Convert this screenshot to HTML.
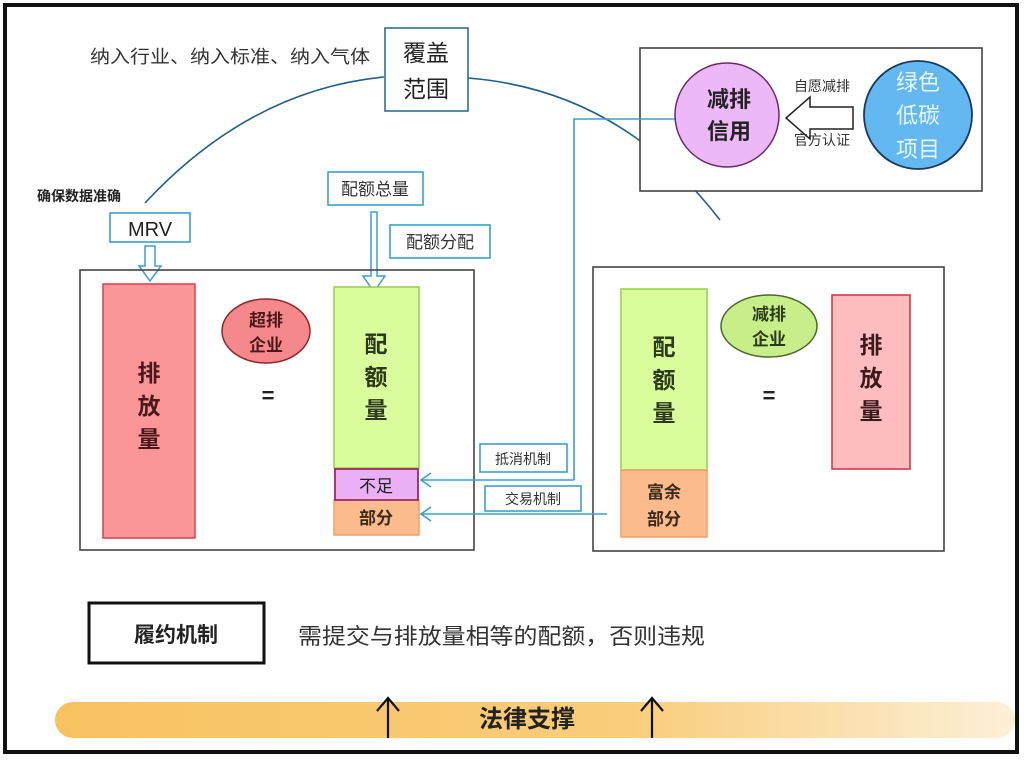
<!DOCTYPE html>
<html><head><meta charset="utf-8"><style>
html,body{margin:0;padding:0;background:#fff;}
svg{display:block;font-family:"Liberation Sans","Noto Sans CJK SC",sans-serif;}
</style></head><body>
<svg width="1024" height="761" viewBox="0 0 1024 761" xmlns="http://www.w3.org/2000/svg">
<defs>
<linearGradient id="og" x1="0" x2="1" y1="0" y2="0">
<stop offset="0" stop-color="#f8c260"/><stop offset="0.6" stop-color="#f9cd7c"/><stop offset="1" stop-color="#fdf0d8"/>
</linearGradient>
</defs>
<rect x="0" y="0" width="1024" height="761" fill="#fff"/>
<rect x="5" y="5" width="1012" height="747" fill="none" stroke="#111" stroke-width="4"/>

<path d="M145 203 Q250 90 384 77" fill="none" stroke="#1f5f88" stroke-width="1.6"/>
<path d="M468 78 Q620 90 720 220" fill="none" stroke="#1f5f88" stroke-width="1.6"/>

<text x="90" y="63" font-size="18" fill="#333" textLength="280" lengthAdjust="spacingAndGlyphs">纳入行业、纳入标准、纳入气体</text>
<rect x="385" y="28" width="83" height="83" fill="#fff" stroke="#2a6f95" stroke-width="1.6"/>
<text x="426" y="61" font-size="23" text-anchor="middle" fill="#222">覆盖</text>
<text x="426" y="97" font-size="23" text-anchor="middle" fill="#222">范围</text>

<text x="37" y="201" font-size="14" font-weight="bold" fill="#222">确保数据准确</text>
<rect x="110" y="213" width="80" height="29" fill="#fff" stroke="#3aa0d0" stroke-width="1.6"/>
<text x="150" y="236" font-size="20" text-anchor="middle" fill="#222">MRV</text>
<path d="M145 246 H155 V266 H161 L150 281 L139 266 H145 Z" fill="#fff" stroke="#3aa0d0" stroke-width="1.5"/>

<rect x="328" y="172" width="95" height="33" fill="#fff" stroke="#3aa0d0" stroke-width="1.6"/>
<text x="375" y="195" font-size="17" text-anchor="middle" fill="#333">配额总量</text>
<rect x="390" y="225" width="100" height="33" fill="#fff" stroke="#3aa0d0" stroke-width="1.6"/>
<text x="440" y="248" font-size="17" text-anchor="middle" fill="#333">配额分配</text>
<path d="M371 212 H377 V276 H385 L374 292 L363 276 H371 Z" fill="#fff" stroke="#3aa0d0" stroke-width="1.5"/>

<rect x="80" y="270" width="394" height="280" fill="none" stroke="#444" stroke-width="1.6"/>
<rect x="103" y="284" width="92" height="254" fill="#fa9598" stroke="#d84050" stroke-width="1.5"/>
<g font-size="23" font-weight="bold" fill="#4a1a1a" text-anchor="middle">
<text x="149" y="381">排</text><text x="149" y="414">放</text><text x="149" y="447">量</text>
</g>
<ellipse cx="266" cy="331" rx="44" ry="32" fill="#f4888a" stroke="#8a2a2a" stroke-width="1.5"/>
<text x="266" y="326" font-size="17" font-weight="bold" text-anchor="middle" fill="#4a1a1a">超排</text>
<text x="266" y="351" font-size="17" font-weight="bold" text-anchor="middle" fill="#4a1a1a">企业</text>
<text x="268" y="403" font-size="22" font-weight="bold" text-anchor="middle" fill="#222">=</text>
<rect x="334" y="287" width="85" height="181" fill="#dafc9c" stroke="#9ccc4b" stroke-width="1.5"/>
<g font-size="23" font-weight="bold" fill="#2a3a1a" text-anchor="middle">
<text x="376" y="352">配</text><text x="376" y="385">额</text><text x="376" y="418">量</text>
</g>
<rect x="334" y="500" width="85" height="35" fill="#fbbb8c" stroke="#f0a060" stroke-width="1.5"/>
<rect x="335" y="469" width="83" height="31" fill="#eab0f5" stroke="#a02860" stroke-width="1.8"/>
<text x="376" y="492" font-size="17" text-anchor="middle" fill="#222">不足</text>
<text x="376" y="524" font-size="17" font-weight="bold" text-anchor="middle" fill="#3a2a1a">部分</text>

<rect x="593" y="267" width="351" height="284" fill="none" stroke="#444" stroke-width="1.6"/>
<rect x="621" y="289" width="86" height="181" fill="#dafc9c" stroke="#9ccc4b" stroke-width="1.5"/>
<g font-size="23" font-weight="bold" fill="#2a3a1a" text-anchor="middle">
<text x="664" y="355">配</text><text x="664" y="388">额</text><text x="664" y="421">量</text>
</g>
<rect x="621" y="470" width="86" height="67" fill="#fbbb8c" stroke="#f0a060" stroke-width="1.5"/>
<text x="664" y="498" font-size="17" font-weight="bold" text-anchor="middle" fill="#3a2a1a">富余</text>
<text x="664" y="525" font-size="17" font-weight="bold" text-anchor="middle" fill="#3a2a1a">部分</text>
<ellipse cx="769" cy="326" rx="48" ry="31" fill="#c8ee8a" stroke="#4a6a2a" stroke-width="1.5"/>
<text x="769" y="320" font-size="17" font-weight="bold" text-anchor="middle" fill="#2a3a1a">减排</text>
<text x="769" y="345" font-size="17" font-weight="bold" text-anchor="middle" fill="#2a3a1a">企业</text>
<text x="769" y="403" font-size="22" font-weight="bold" text-anchor="middle" fill="#222">=</text>
<rect x="832" y="295" width="78" height="174" fill="#fcbcc0" stroke="#d03040" stroke-width="1.5"/>
<g font-size="23" font-weight="bold" fill="#3a1a1a" text-anchor="middle">
<text x="871" y="353">排</text><text x="871" y="386">放</text><text x="871" y="419">量</text>
</g>

<rect x="640" y="48" width="342" height="143" fill="#fff" stroke="#444" stroke-width="1.6"/>
<path d="M574 480 V119 H675" fill="none" stroke="#3aa0d0" stroke-width="1.6"/>
<circle cx="727" cy="115" r="52" fill="#ecb8f7" stroke="#6a2a6a" stroke-width="1.5"/>
<text x="729" y="107" font-size="22" font-weight="bold" text-anchor="middle" fill="#222">减排</text>
<text x="729" y="139" font-size="22" font-weight="bold" text-anchor="middle" fill="#222">信用</text>
<circle cx="918" cy="115" r="54" fill="#64b8f2" stroke="#1a3a5a" stroke-width="1.8"/>
<g font-size="22" text-anchor="middle" fill="#e8f6ff">
<text x="918" y="90">绿色</text><text x="918" y="123">低碳</text><text x="918" y="157">项目</text>
</g>
<path d="M853 107 H810 V97 L786 118 L810 139 V129 H853 Z" fill="#fff" stroke="#222" stroke-width="1.5"/>
<text x="822" y="91" font-size="14" text-anchor="middle" fill="#333">自愿减排</text>
<text x="822" y="145" font-size="14" text-anchor="middle" fill="#333">官方认证</text>

<rect x="480" y="444" width="87" height="28" fill="#fff" stroke="#3aa0d0" stroke-width="1.6"/>
<text x="523" y="464" font-size="14" text-anchor="middle" fill="#333">抵消机制</text>
<path d="M574 480 H421 M431 473 L421 480 L431 487" fill="none" stroke="#3aa0d0" stroke-width="1.6"/>
<rect x="485" y="486" width="96" height="25" fill="#fff" stroke="#3aa0d0" stroke-width="1.6"/>
<text x="533" y="504" font-size="14" text-anchor="middle" fill="#333">交易机制</text>
<path d="M607 514 H421 M431 507 L421 514 L431 521" fill="none" stroke="#3aa0d0" stroke-width="1.6"/>

<rect x="89" y="603" width="175" height="60" fill="#fff" stroke="#111" stroke-width="3"/>
<text x="176" y="642" font-size="21" font-weight="bold" text-anchor="middle" fill="#222">履约机制</text>
<text x="298" y="644" font-size="22" fill="#333" textLength="407" lengthAdjust="spacingAndGlyphs">需提交与排放量相等的配额，否则违规</text>

<rect x="55" y="702" width="960" height="36" rx="18" fill="url(#og)"/>
<path d="M388 738 V698 M377 711 L388 698 L399 711" fill="none" stroke="#111" stroke-width="2.2"/>
<path d="M652 738 V698 M641 711 L652 698 L663 711" fill="none" stroke="#111" stroke-width="2.2"/>
<text x="527" y="727" font-size="24" font-weight="bold" text-anchor="middle" fill="#222">法律支撑</text>
</svg>
</body></html>
